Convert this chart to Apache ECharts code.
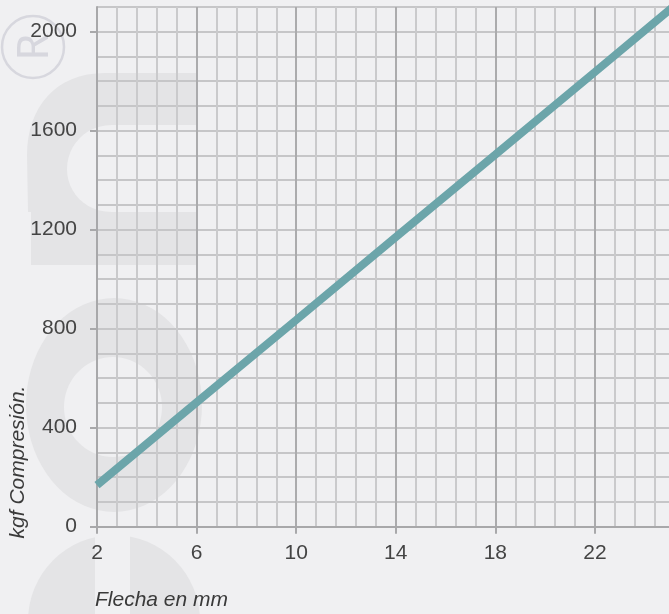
<!DOCTYPE html>
<html>
<head>
<meta charset="utf-8">
<script src="https://cdn.jsdelivr.net/npm/echarts@6/dist/echarts.min.js"></script>
<style>
html,body{margin:0;padding:0;background:#f0f0f2;}
#chart{width:669px;height:614px;}
</style>
</head>
<body>
<div id="chart"></div>
<script>
// Data
var flechaMm = [2, 6, 10, 14, 18, 22, 25.1];
var kgfCompresion = [168, 502, 835, 1170, 1503, 1837, 2097];
var xTickLabels = [2, 6, 10, 14, 18, 22];
var yTickLabels = [0, 400, 800, 1200, 1600, 2000];
var xTitle = 'Flecha en mm';
var yTitle = 'kgf Compresión.';

var chart = echarts.init(document.getElementById('chart'));
var FONT = '"Liberation Sans", Arial, sans-serif';
var WM = '#e4e4e6';
var BG = '#f0f0f2';

// decorative watermark helpers
function cubic(p0, p1, p2, p3, n) {
  var out = [];
  for (var i = 1; i <= n; i++) {
    var t = i / n, u = 1 - t;
    out.push([
      u*u*u*p0[0] + 3*u*u*t*p1[0] + 3*u*t*t*p2[0] + t*t*t*p3[0],
      u*u*u*p0[1] + 3*u*u*t*p1[1] + 3*u*t*t*p2[1] + t*t*t*p3[1]
    ]);
  }
  return out;
}
function ellipsePts(cx, cy, rx, ry) {
  var out = [];
  for (var i = 0; i < 72; i++) {
    var a = i / 72 * Math.PI * 2;
    out.push([cx + rx * Math.cos(a), cy + ry * Math.sin(a)]);
  }
  return out;
}
var ePts = [[196, 73], [105, 73]]
  .concat(cubic([105, 73], [55, 73], [27, 108], [27, 155], 16))
  .concat([[28, 212], [31, 212], [31, 265], [196, 265], [196, 212], [112, 212]])
  .concat(cubic([112, 212], [85, 212], [67, 192], [67, 169], 12))
  .concat(cubic([67, 169], [67, 146], [85, 125], [112, 125], 12))
  .concat([[196, 125]]);

var pts = flechaMm.map(function (x, i) { return [x, kgfCompresion[i]]; });
function showIn(list) {
  return function (v) {
    for (var i = 0; i < list.length; i++) if (Math.abs(list[i] - v) < 1e-6) return String(list[i]);
    return '';
  };
}

chart.setOption({
  backgroundColor: BG,
  animation: false,
  grid: { left: 97, top: 6.9, height: 519.8, width: 597.5, containLabel: false, outerBoundsMode: 'none' },
  xAxis: [{
    type: 'value', min: 2, max: 26, interval: 4,
    axisLine: { show: true, lineStyle: { color: '#a8a8aa', width: 2 } },
    axisTick: { show: true, length: 7, lineStyle: { color: '#a8a8aa', width: 2 } },
    axisLabel: { fontSize: 21, fontFamily: FONT, color: '#444', margin: 16, formatter: showIn(xTickLabels) },
    splitLine: { show: true, lineStyle: { color: '#ababad', width: 2 } },
    minorTick: { show: false, splitNumber: 5 },
    minorSplitLine: { show: true, lineStyle: { color: '#cacacc', width: 2 } }
  }],
  yAxis: [{
    type: 'value', min: 0, max: 2100, interval: 100,
    axisLine: { show: false }, axisTick: { show: false }, axisLabel: { show: false },
    splitLine: { show: true, lineStyle: { color: '#c6c6c8', width: 2 } }
  }, {
    type: 'value', min: 0, max: 2100, interval: 400, position: 'left',
    axisLine: { show: true, lineStyle: { color: '#a8a8aa', width: 2 } },
    axisTick: { show: true, length: 7, lineStyle: { color: '#a8a8aa', width: 2 } },
    axisLabel: { fontSize: 21, fontFamily: FONT, color: '#444', margin: 20, showMaxLabel: false, formatter: showIn(yTickLabels) },
    splitLine: { show: false }
  }],
  series: [{
    type: 'line', xAxisIndex: 0, yAxisIndex: 0,
    data: pts, showSymbol: false, symbol: 'none',
    lineStyle: { color: '#6ca5aa', width: 8, cap: 'butt' },
    z: 5
  }],
  graphic: [
    { type: 'circle', z: -20, silent: true, shape: { cx: 33, cy: 47, r: 31 },
      style: { fill: 'none', stroke: '#d7d7de', lineWidth: 2.5 } },
    { type: 'text', z: -20, silent: true, x: 35, y: 47, rotation: Math.PI / 2,
      style: { text: 'R', font: '44px "Noto Sans", sans-serif', fill: '#d7d7de', align: 'center', verticalAlign: 'middle' } },
    { type: 'polygon', z: -20, silent: true, shape: { points: ePts }, style: { fill: WM } },
    { type: 'polygon', z: -20, silent: true, shape: { points: ellipsePts(114, 405, 88, 107) }, style: { fill: WM } },
    { type: 'polygon', z: -19, silent: true, shape: { points: ellipsePts(113, 407, 49, 50) }, style: { fill: BG } },
    { type: 'circle', z: -20, silent: true, shape: { cx: 114, cy: 621, r: 86 }, style: { fill: WM } },
    { type: 'rect', z: -19, silent: true, shape: { x: 95, y: 530, width: 35, height: 90 }, style: { fill: BG } },
    { type: 'text', z: 10, x: 18, y: 462, rotation: Math.PI / 2,
      style: { text: yTitle, font: 'italic 21px ' + FONT, fill: '#3a3a3a', align: 'center', verticalAlign: 'middle' } },
    { type: 'text', z: 10, x: 95, y: 600,
      style: { text: xTitle, font: 'italic 21px ' + FONT, fill: '#3a3a3a', align: 'left', verticalAlign: 'middle' } }
  ]
});
</script>
</body>
</html>
